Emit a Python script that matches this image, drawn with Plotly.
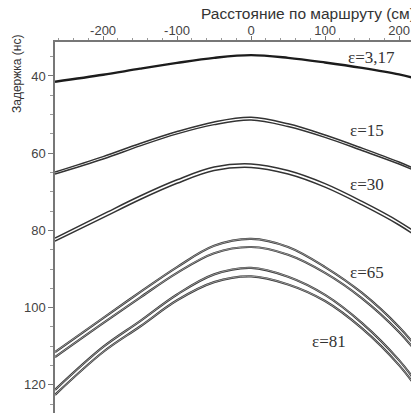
import plotly.graph_objects as go

# Distance along route (cm) at which curves were read
distance_cm = [-265, -200, -150, -100, -50, 0, 50, 100, 150, 200, 227]

# Delay (ns)
eps_3_17 = [41.5, 39.7, 38.1, 36.6, 35.3, 34.6, 35.3, 36.5, 37.9, 39.6, 40.9]
eps_15_a = [64.9, 60.9, 57.5, 54.4, 51.9, 50.7, 52.4, 55.3, 58.7, 62.3, 64.5]
eps_15_b = [65.4, 61.5, 58.1, 55.0, 52.6, 51.4, 53.1, 55.9, 59.3, 62.8, 65.0]
eps_30_a = [82.0, 75.8, 71.1, 66.9, 63.6, 62.8, 64.5, 67.9, 72.5, 77.7, 81.1]
eps_30_b = [82.8, 76.7, 72.0, 67.8, 64.5, 63.7, 65.4, 68.8, 73.4, 78.6, 82.0]
eps_65_a = [111.5, 102.7, 96.0, 89.5, 84.0, 82.2, 84.3, 89.5, 96.2, 105.0, 111.0]
eps_65_b = [112.8, 104.0, 97.4, 91.0, 85.9, 84.3, 86.3, 91.0, 97.6, 106.3, 112.3]
eps_81_a = [121.3, 110.2, 103.5, 96.6, 91.4, 89.7, 92.0, 96.7, 104.0, 113.6, 120.3]
eps_81_b = [122.6, 111.5, 104.9, 98.1, 93.4, 91.9, 94.0, 98.3, 105.4, 114.9, 121.6]

curve_labels = ["ε=3,17", "ε=15", "ε=30", "ε=65", "ε=81"]
x_ticks = [-200, -100, 0, 100, 200]
y_ticks = [40, 60, 80, 100, 120]

fig = go.Figure()


def add_line(ys, color, width):
    fig.add_trace(go.Scatter(x=distance_cm, y=ys, mode="lines",
                             line=dict(color=color, width=width, shape="spline", smoothing=1.0),
                             showlegend=False, hoverinfo="skip"))


add_line(eps_3_17, "#1c1c1c", 2.4)
for ys in [eps_15_a, eps_15_b, eps_30_a, eps_30_b]:
    add_line(ys, "#333333", 1.5)
for ys in [eps_65_a, eps_65_b, eps_81_a, eps_81_b]:
    add_line(ys, "#3a3a3a", 2.2)
    add_line(ys, "#bdbdbd", 0.7)

label_pos = [(163, 35.1), (157, 54.0), (157, 68.2), (157, 91.0), (106, 108.9)]
for txt, (lx, ly) in zip(curve_labels, label_pos):
    fig.add_annotation(x=lx, y=ly, text=txt, showarrow=False,
                       font=dict(family="Liberation Serif", size=17, color="#333"),
                       xanchor="center", yanchor="middle")

# page body has an 8px offset; plot area spans window x 55..419, y 42..413
fig.add_annotation(xref="paper", yref="paper", x=(199 - 55) / 364, y=1 + (42 - 13) / 371,
                   text="Расстояние по маршруту (см)", showarrow=False,
                   xanchor="left", yanchor="middle",
                   font=dict(family="Liberation Sans", size=15.5, color="#333"))
fig.add_annotation(xref="paper", yref="paper", x=-(55 - 17) / 364, y=1 - (74 - 42) / 371,
                   text="Задержка (нс)", showarrow=False, textangle=-90,
                   xanchor="center", yanchor="middle",
                   font=dict(family="Liberation Sans", size=12, color="#333"))

fig.update_layout(
    width=411, height=405,
    margin=dict(l=47, r=0, t=34, b=0),
    paper_bgcolor="white", plot_bgcolor="white",
    xaxis=dict(side="top", range=[-265, 227], tickvals=x_ticks,
               ticktext=[str(v) for v in x_ticks],
               showgrid=False, zeroline=False, showline=True, linecolor="#777", linewidth=1.5,
               ticks="outside", ticklen=4, tickcolor="#777", ticklabelstandoff=-4,
               minor=dict(dtick=20, ticks="outside", ticklen=2, tickcolor="#999"),
               tickfont=dict(family="Liberation Sans", size=13, color="#444")),
    yaxis=dict(range=[127.3, 31.2], tickvals=y_ticks,
               ticktext=[str(v) for v in y_ticks],
               showgrid=False, zeroline=False, showline=True, linecolor="#777", linewidth=1.5,
               ticks="outside", ticklen=5, tickcolor="#777",
               minor=dict(dtick=5, ticks="outside", ticklen=3, tickcolor="#999"),
               tickfont=dict(family="Liberation Sans", size=13, color="#444")),
)

fig.write_html("out.html")
